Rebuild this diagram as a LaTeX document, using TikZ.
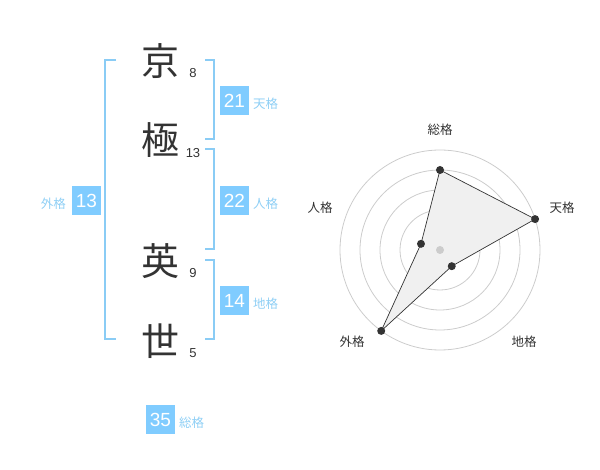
\documentclass[tikz,border=0pt]{standalone}
\usepackage{fontspec}
\setmainfont{Liberation Sans}
\newfontfamily\jp{Noto Sans CJK JP}
\definecolor{badgec}{HTML}{80CCFF}
\definecolor{brk}{HTML}{8ACCF5}
\definecolor{lbl}{HTML}{8FCFF5}
\definecolor{ink}{HTML}{333333}
\definecolor{ring}{HTML}{CCCCCC}
\definecolor{area}{HTML}{F0F0F0}
\begin{document}
\begin{tikzpicture}[x=1pt,y=-1pt,
  kanji/.style={font=\jp\fontsize{38}{38}\selectfont, text=ink, inner sep=0},
  strokes/.style={font=\fontsize{13}{13}\selectfont, text=ink, inner sep=0},
  badge/.style={fill=badgec, text=white, minimum size=29pt, inner sep=0, font=\fontsize{19}{19}\selectfont},
  lab/.style={font=\jp\fontsize{12.5}{12.5}\selectfont, text=lbl, inner sep=0},
  axislab/.style={font=\jp\fontsize{12.5}{12.5}\selectfont, text=ink, inner sep=0},
  bracket/.style={draw=brk, line width=2pt},
  ringline/.style={draw=ring, line width=0.8pt},
  dot/.style={circle, fill=ink, inner sep=0, minimum size=8pt}]
\useasboundingbox (0,0) rectangle (600,470);
% name characters
\node[kanji] (k1) at (160,61) {京};
\node[kanji] (k2) at (160,140) {極};
\node[kanji] (k3) at (160,261) {英};
\node[kanji] (k4) at (160,341) {世};
\node[strokes] (s1) at (193,73) {8};
\node[strokes] (s2) at (193,153) {13};
\node[strokes] (s3) at (193,273) {9};
\node[strokes] (s4) at (193,353) {5};
% brackets
\draw[bracket] (116,60) -- (105,60) -- (105,339.5) -- (116,339.5);
\draw[bracket] (205,60) -- (214,60) -- (214,139.5) -- (205,139.5);
\draw[bracket] (205,149.5) -- (214,149.5) -- (214,249.5) -- (205,249.5);
\draw[bracket] (205,260) -- (214,260) -- (214,339.5) -- (205,339.5);
% badges
\node[badge] (b1) at (234.5,100.5) {21};
\node[lab, anchor=west] (l1) at (253,104) {天格};
\node[badge] (b2) at (234.5,200.5) {22};
\node[lab, anchor=west] (l2) at (253,204) {人格};
\node[badge] (b3) at (86.5,200.5) {13};
\node[lab, anchor=east] (l3) at (66,204) {外格};
\node[badge] (b4) at (234.5,300.5) {14};
\node[lab, anchor=west] (l4) at (253,304) {地格};
\node[badge] (b5) at (160.5,419.5) {35};
\node[lab, anchor=west] (l5) at (179,423) {総格};
% radar
\begin{scope}[shift={(440,250)}]
  \coordinate (C) at (0,0);
  \foreach \r in {20,40,60,80,100} \draw[ringline] (C) circle[radius=\r pt];
  \coordinate (pS) at (90:80pt);
  \coordinate (pT) at (18:100pt);
  \coordinate (pC) at (-54:20pt);
  \coordinate (pG) at (-126:100pt);
  \coordinate (pJ) at (162:20pt);
  \draw[fill=area, draw=ink, line width=0.7pt] (pS) -- (pT) -- (pC) -- (pG) -- (pJ) -- cycle;
  \fill[ring] (C) circle[radius=4pt];
  \foreach \p in {pS,pT,pC,pG,pJ} \node[dot] at (\p) {};
\end{scope}
\node[axislab] (aS) at (440,130) {総格};
\node[axislab] (aT) at (562,208) {天格};
\node[axislab] (aJ) at (320,208) {人格};
\node[axislab] (aG) at (352,342) {外格};
\node[axislab] (aC) at (524,342) {地格};
\end{tikzpicture}
\end{document}
